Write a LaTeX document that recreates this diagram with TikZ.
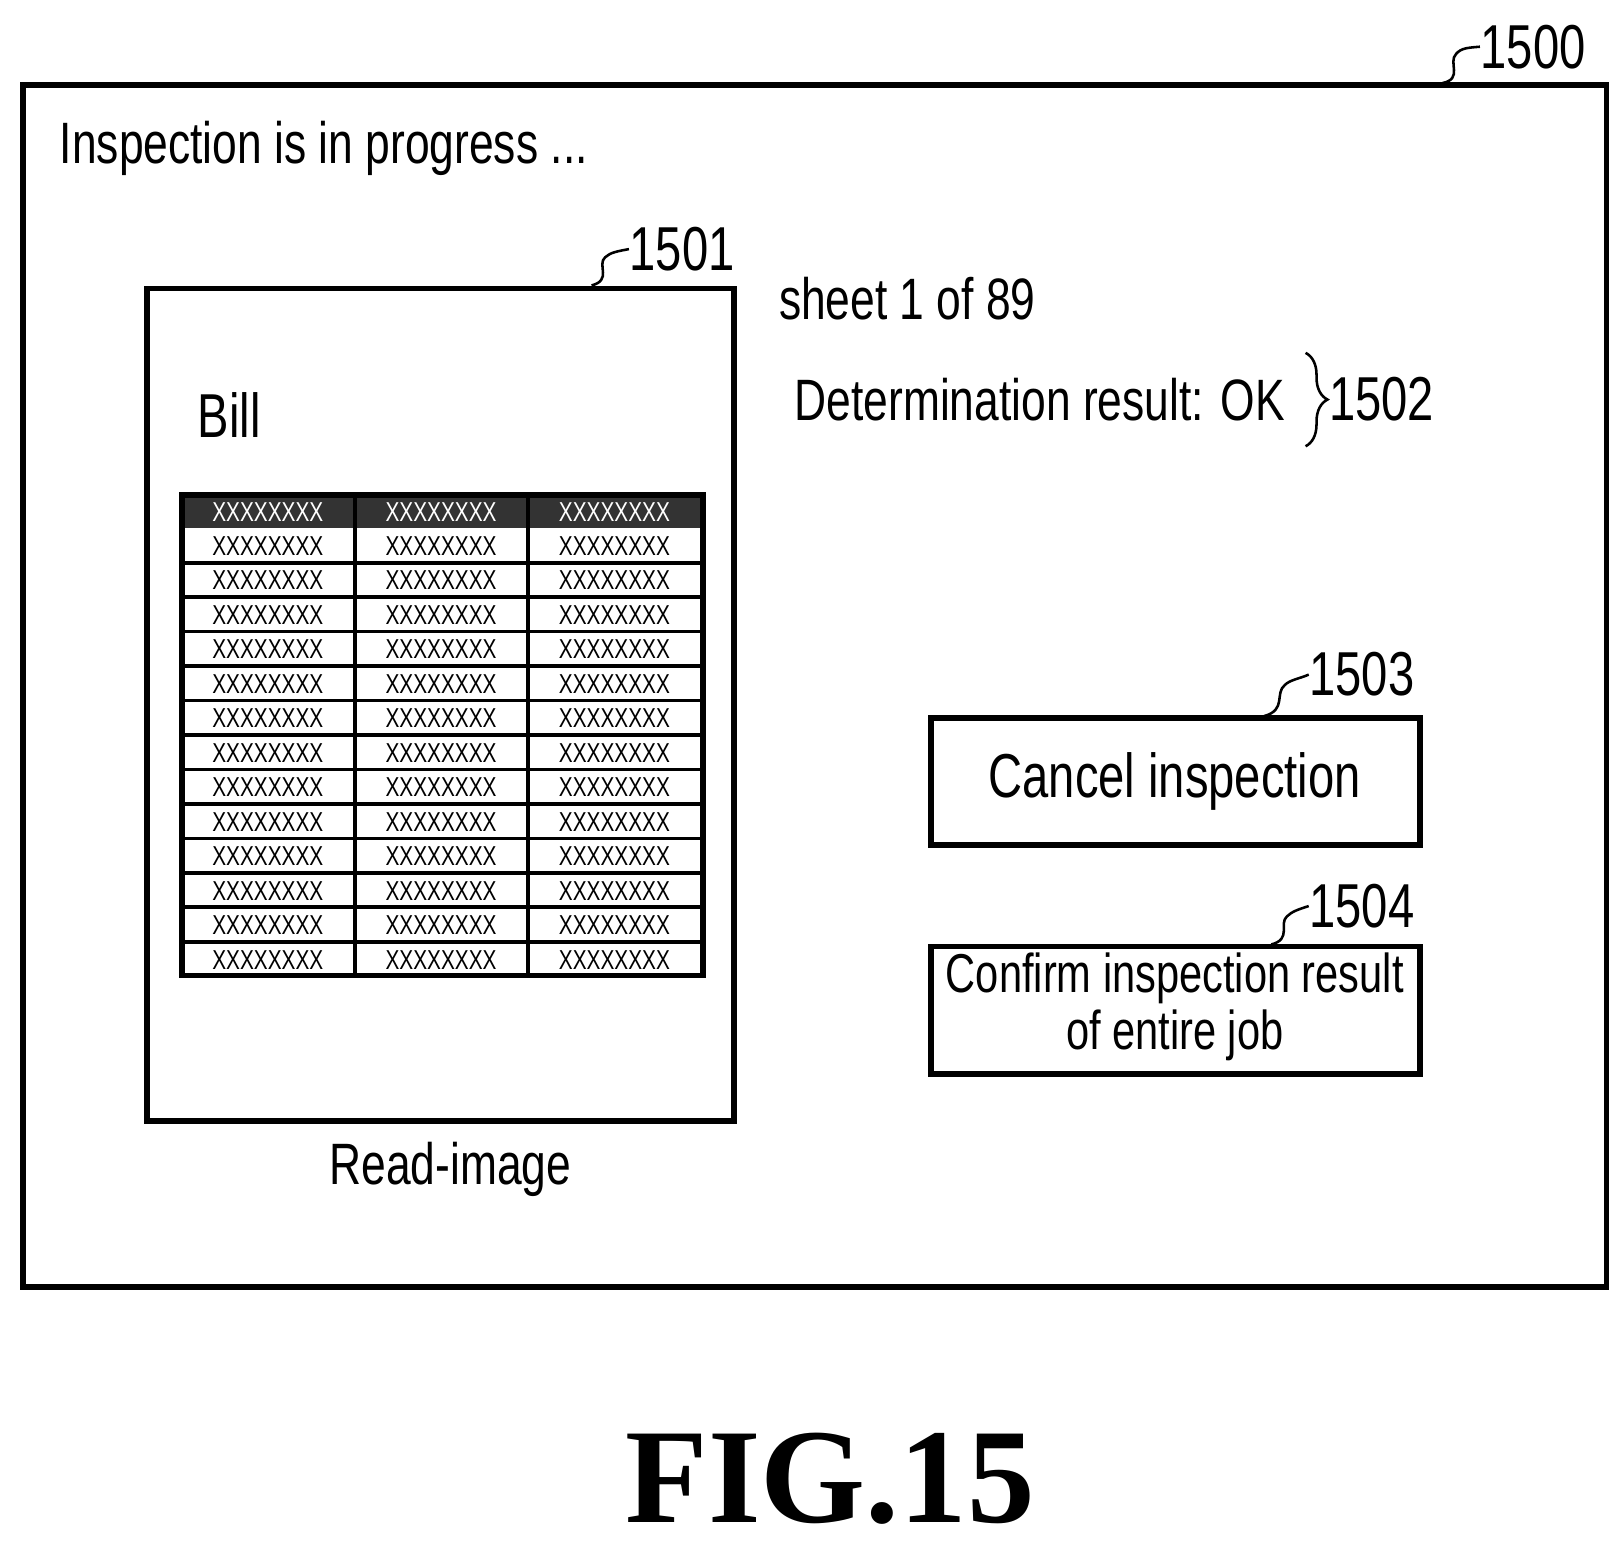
\documentclass[tikz,border=0pt]{standalone}
\usepackage{fontspec}
\setmainfont{Liberation Sans}[FakeStretch=0.76]
\newfontfamily\figfont{Liberation Serif}
\usetikzlibrary{decorations.pathreplacing}
\begin{document}
\begin{tikzpicture}[x=0.01cm,y=-0.01cm,
    frame/.style={draw,line width=1.6pt},
    leader/.style={line width=0.7pt},
    num/.style={font=\fontsize{17}{18}\selectfont,inner sep=0pt},
    cell/.style={font=\fontsize{7.5}{8}\selectfont,inner sep=0pt}]
  \useasboundingbox (0,0) rectangle (1560,1490);

  % main screen
  \draw[frame] (22,82) rectangle (1548,1240);
  \node[num,anchor=west] (n1500) at (1426,45) {1500};
  \draw[leader] (1390,80) .. controls (1410,76) and (1395,60) .. (1403,52) .. controls (1408,46) and (1415,46) .. (n1500.west);
  \node[anchor=west,inner sep=0pt,font=\fontsize{16}{18}\selectfont] (title) at (57,143) {Inspection is in progress ...};

  % read image
  \draw[frame] (142,278) rectangle (707,1080);
  \node[num,anchor=west] (n1501) at (606,240) {1501};
  \draw[leader] (570,275) .. controls (590,270) and (575,255) .. (583,248) .. controls (588,243) and (596,242) .. (n1501.west);
  \node[anchor=west,inner sep=0pt,font=\fontsize{17}{18}\selectfont] (bill) at (190,400) {Bill};
  \node[inner sep=0pt,font=\fontsize{16}{18}\selectfont] (readimg) at (434,1127) {Read-image};

  % table
  \fill[black!80] (175,477) rectangle (677,509);
  \foreach \c in {0,1,2} {
    \node[cell,text=white] at (258+167*\c,493) {XXXXXXXX};
    \foreach \r in {1,...,13}
      \node[cell] at (258+167*\c,493+33.2*\r) {XXXXXXXX};
  }
  \foreach \r in {1,...,12}
    \draw[line width=1pt] (175,509+33.2*\r) -- (677,509+33.2*\r);
  \draw[line width=1.2pt] (342,477) -- (342,940) (509,477) -- (509,940);
  \draw[line width=1.6pt] (175,477) rectangle (677,940);

  % status
  \node[anchor=west,inner sep=0pt,font=\fontsize{16}{18}\selectfont] (sheet) at (750,288) {sheet 1 of 89};
  \node[anchor=west,inner sep=0pt,font=\fontsize{16}{18}\selectfont] (result) at (765,385) {Determination result: OK};
  \draw[leader,decorate,decoration={brace,amplitude=6pt}] (1258,340) -- (1258,430);
  \node[num,anchor=west] (n1502) at (1280,385) {1502};

  % buttons
  \draw[frame] (897,692) rectangle (1368,814);
  \node[inner sep=0pt,font=\fontsize{17}{20}\selectfont] (cancel) at (1132,753) {Cancel inspection};
  \node[num,anchor=west] (n1503) at (1261,650) {1503};
  \draw[leader] (1218,690) .. controls (1240,684) and (1228,668) .. (1238,660) .. controls (1243,655) and (1252,654) .. (n1503.west);

  \draw[frame] (897,912) rectangle (1368,1035);
  \node[inner sep=0pt,align=center,font=\fontsize{15}{15.5}\selectfont] (confirm) at (1132,970) {Confirm inspection result\\of entire job};
  \node[num,anchor=west] (n1504) at (1261,873) {1504};
  \draw[leader] (1225,910) .. controls (1245,905) and (1232,890) .. (1240,883) .. controls (1245,878) and (1252,876) .. (n1504.west);

  % figure label
  \node[inner sep=0pt,font=\figfont\bfseries\fontsize{37}{37}\selectfont] (fig) at (800,1425) {FIG.15};
\end{tikzpicture}
\end{document}
